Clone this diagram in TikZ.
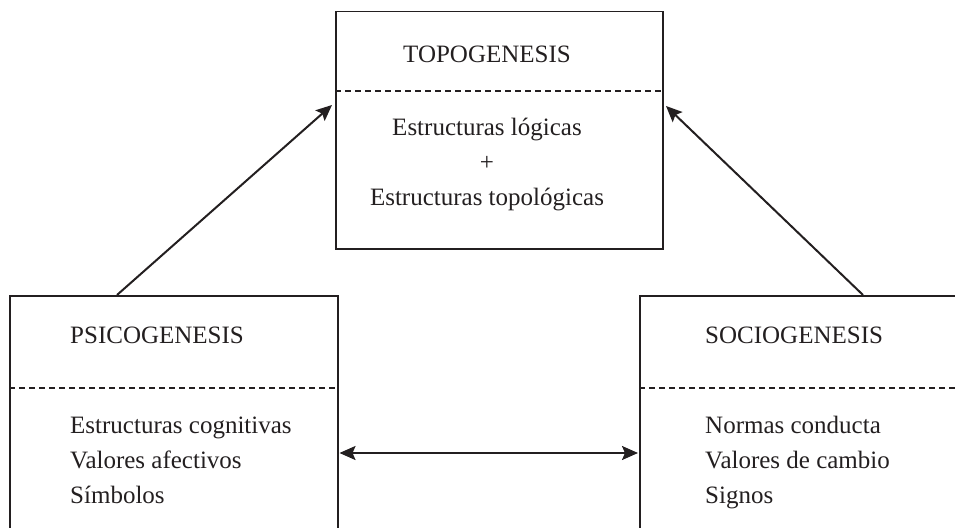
\documentclass[tikz,border=0pt]{standalone}
\usepackage{fontspec}
\setmainfont{Liberation Serif}
\usetikzlibrary{arrows.meta}
\definecolor{ink}{HTML}{231F20}
\begin{document}
\begin{tikzpicture}[x=1pt,y=-1pt,
  boxstyle/.style={draw=ink,line width=1.5pt,rectangle,inner sep=0pt,anchor=north west},
  dashline/.style={draw=ink,line width=1.1pt,dash pattern=on 6pt off 4pt},
  conn/.style={draw=ink,line width=2pt,-{Stealth[length=16pt,width=14pt,inset=3pt]}},
  dconn/.style={draw=ink,line width=2pt,{Stealth[length=16pt,width=14pt,inset=3pt]}-{Stealth[length=16pt,width=14pt,inset=3pt]}},
  lab/.style={text=ink,inner sep=0pt,font=\fontsize{25}{30}\selectfont},
  lableft/.style={lab,anchor=base west},
  labmid/.style={lab,anchor=base}]
\useasboundingbox (0,0) rectangle (955,527);
\clip (0,0) rectangle (955,527);
% boxes
\node[boxstyle,minimum width=327pt,minimum height=237pt] (topo) at (335,11) {};
\node[boxstyle,minimum width=328pt,minimum height=260pt] (psico) at (9,295) {};
\node[boxstyle,minimum width=340pt,minimum height=260pt] (socio) at (639,295) {};
% dashed separators
\draw[dashline] (topo.west |- 0,91) -- (topo.east |- 0,91);
\draw[dashline] (psico.west |- 0,388) -- (psico.east |- 0,388);
\draw[dashline] (socio.west |- 0,388) -- (socio.east |- 0,388);
% texts
\node[labmid] (t1) at (487,63) {TOPOGENESIS};
\node[labmid] (t2) at (487,135) {Estructuras lógicas};
\node[labmid] (t3) at (487,170) {+};
\node[labmid] (t4) at (487,205) {Estructuras topológicas};
\node[lableft] (p1) at (70,343) {PSICOGENESIS};
\node[lableft] (p2) at (70,433) {Estructuras cognitivas};
\node[lableft] (p3) at (70,468) {Valores afectivos};
\node[lableft] (p4) at (70,503) {Símbolos};
\node[lableft] (s1) at (705,343) {SOCIOGENESIS};
\node[lableft] (s2) at (705,433) {Normas conducta};
\node[lableft] (s3) at (705,468) {Valores de cambio};
\node[lableft] (s4) at (705,503) {Signos};
% connector endpoints
\coordinate (pstart) at (117,295);
\coordinate (pend) at (332,105);
\coordinate (sstart) at (863,295);
\coordinate (send) at (666,106);
\coordinate (hl) at ([xshift=1pt]psico.east |- 0,453);
\coordinate (hr) at ([xshift=-1pt]socio.west |- 0,453);
% connectors
\draw[conn] (pstart) -- (pend);
\draw[conn] (sstart) -- (send);
\draw[dconn] (hl) -- (hr);
\end{tikzpicture}
\end{document}
